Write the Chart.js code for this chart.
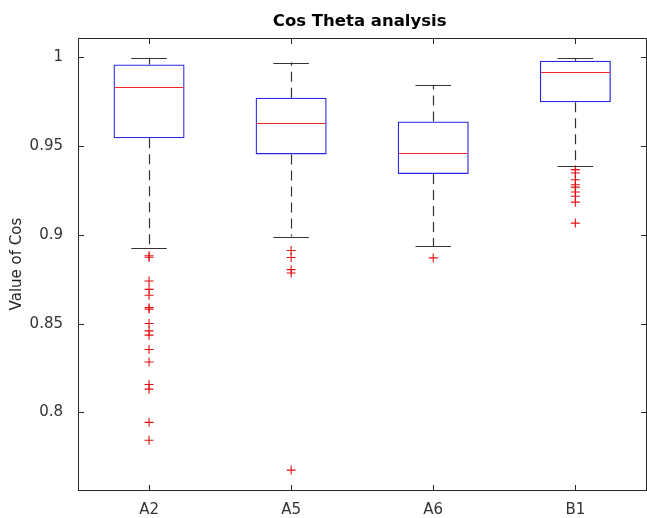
<!DOCTYPE html>
<html><head><meta charset="utf-8">
<script src="https://cdn.jsdelivr.net/npm/chart.js@4.4.1/dist/chart.umd.min.js"></script>
<style>html,body{margin:0;padding:0;background:#fff;overflow:hidden;width:647px;height:518px}#wrap{position:relative;width:647px;height:518px}canvas{display:block}</style>
</head><body>
<div id="wrap"><canvas id="c"></canvas></div>
<script>
const categories = ['A2', 'A5', 'A6', 'B1'];
const q1 = [0.9544, 0.9453, 0.9342, 0.9747];
const median = [0.9830, 0.9629, 0.9462, 0.9916];
const q3 = [0.9959, 0.9772, 0.9638, 0.9981];
const whiskerLow = [0.8924, 0.8990, 0.8935, 0.9389];
const whiskerHigh = [0.9997, 0.9970, 0.9845, 0.9994];
const outliersA2 = [0.8882, 0.8874, 0.8740, 0.8693, 0.8660, 0.8590, 0.8581, 0.8501, 0.8459, 0.8435, 0.8354, 0.8284, 0.8157, 0.8131, 0.7944, 0.7843];
const outliersA5 = [0.8912, 0.8872, 0.8804, 0.8785, 0.7675];
const outliersA6 = [0.8870];
const outliersB1 = [0.9367, 0.9348, 0.9310, 0.9282, 0.9269, 0.9241, 0.9217, 0.9184, 0.9066];
const yTickValues = [0.8, 0.85, 0.9, 0.95, 1];
const yTickLabels = ['0.8', '0.85', '0.9', '0.95', '1'];
const yMin = 0.7563, yMax = 1.0108;
// axes limits are [0.5, 4.5]; the reference image is cropped just before the right edge
const xAxisMin = 0.5, xAxisMax = 4.5, xVisibleMax = 4.465;

const outlierLists = [outliersA2, outliersA5, outliersA6, outliersB1];
const outlierPoints = [];
outlierLists.forEach((list, i) => list.forEach(v => outlierPoints.push({x: i + 1, y: v})));
const boxData = categories.map((c, i) => ({x: i + 1, y: [q1[i], q3[i]]}));

const FONT = 'DejaVu Sans';
const AXIS = '#262626';

function seg(ctx, x1, y1, x2, y2) { ctx.beginPath(); ctx.moveTo(x1, y1); ctx.lineTo(x2, y2); ctx.stroke(); }
const crisp = v => Math.round(v) + 0.5;

const boxParts = {
  id: 'boxParts',
  afterDatasetsDraw(chart) {
    const {ctx, scales: {x, y}} = chart;
    ctx.save();
    categories.forEach((c, i) => {
      const px = crisp(x.getPixelForValue(i + 1));
      const capL = x.getPixelForValue(i + 1 - 0.125), capR = x.getPixelForValue(i + 1 + 0.125);
      const boxL = x.getPixelForValue(i + 1 - 0.25), boxR = x.getPixelForValue(i + 1 + 0.25);
      ctx.strokeStyle = '#333333';
      ctx.lineWidth = 1.2;
      ctx.setLineDash([10, 6]);
      seg(ctx, px, y.getPixelForValue(q3[i]), px, y.getPixelForValue(whiskerHigh[i]));
      seg(ctx, px, y.getPixelForValue(q1[i]), px, y.getPixelForValue(whiskerLow[i]));
      ctx.setLineDash([]);
      const yh = crisp(y.getPixelForValue(whiskerHigh[i])), yl = crisp(y.getPixelForValue(whiskerLow[i]));
      seg(ctx, capL, yh, capR, yh);
      seg(ctx, capL, yl, capR, yl);
      ctx.strokeStyle = '#f02828';
      ctx.lineWidth = 1;
      const ym = crisp(y.getPixelForValue(median[i]));
      seg(ctx, boxL + 1, ym, boxR - 1, ym);
    });
    ctx.restore();
  },
  afterDraw(chart) {
    const {ctx, chartArea: a, scales: {x, y}} = chart;
    ctx.save();
    ctx.strokeStyle = AXIS;
    ctx.lineWidth = 1;
    const L = crisp(x.getPixelForValue(xAxisMin)), R = crisp(x.getPixelForValue(xAxisMax));
    const T = crisp(a.top), B = crisp(a.bottom);
    ctx.strokeRect(L, T, R - L, B - T);
    const tl = 5.5;
    yTickValues.forEach(v => {
      const py = crisp(y.getPixelForValue(v));
      seg(ctx, L, py, L + tl, py);
      seg(ctx, R, py, R - tl, py);
    });
    categories.forEach((c, i) => {
      const px = crisp(x.getPixelForValue(i + 1));
      seg(ctx, px, B, px, B - tl);
      seg(ctx, px, T, px, T + tl);
    });
    ctx.restore();
  }
};

new Chart(document.getElementById('c'), {
  type: 'bar',
  data: {
    datasets: [
      {
        type: 'scatter',
        label: 'Outliers',
        data: outlierPoints,
        pointStyle: 'cross',
        pointRadius: 4.5,
        pointBorderColor: '#e01010',
        pointBorderWidth: 1.1,
        pointBackgroundColor: '#e01010',
        showLine: false
      },
      {
        type: 'bar',
        label: 'Box',
        data: boxData,
        backgroundColor: 'rgba(0,0,0,0)',
        borderColor: '#2828e6',
        borderWidth: 1.3,
        borderSkipped: false,
        categoryPercentage: 1,
        barPercentage: 0.5
      }
    ]
  },
  options: {
    responsive: true,
    maintainAspectRatio: false,
    animation: false,
    events: [],
    layout: {padding: {left: 0, right: 0, top: 0, bottom: 0}},
    plugins: {
      legend: {display: false},
      tooltip: {enabled: false},
      title: {
        display: true,
        text: 'Cos Theta analysis',
        fullSize: false,
        color: '#000',
        font: {family: FONT, size: 16.5, weight: 'bold', lineHeight: 1.2},
        padding: {top: 11.4, bottom: 6.9}
      }
    },
    scales: {
      x: {
        type: 'linear',
        offset: false,
        min: xAxisMin,
        max: xVisibleMax,
        grid: {display: false, offset: false},
        border: {display: false},
        afterBuildTicks: s => { s.ticks = categories.map((c, i) => ({value: i + 1})); },
        afterFit: s => { s.height = 28; },
        ticks: {
          autoSkip: false,
          maxRotation: 0,
          padding: 3,
          color: '#333',
          font: {family: FONT, size: 15},
          callback: v => categories[Math.round(v) - 1]
        }
      },
      y: {
        type: 'linear',
        min: yMin,
        max: yMax,
        grid: {display: false},
        border: {display: false},
        afterBuildTicks: s => { s.ticks = yTickValues.map(v => ({value: v})); },
        afterFit: s => { s.width = 78; },
        ticks: {
          padding: 7,
          color: '#333',
          font: {family: FONT, size: 15},
          callback: v => { const k = yTickValues.findIndex(t => Math.abs(t - v) < 1e-9); return k >= 0 ? yTickLabels[k] : ''; }
        },
        title: {
          display: true,
          text: 'Value of Cos',
          color: '#262626',
          font: {family: FONT, size: 15, lineHeight: 1.2},
          padding: {top: 8.5, bottom: 0}
        }
      }
    }
  },
  plugins: [boxParts]
});
</script>
</body></html>
